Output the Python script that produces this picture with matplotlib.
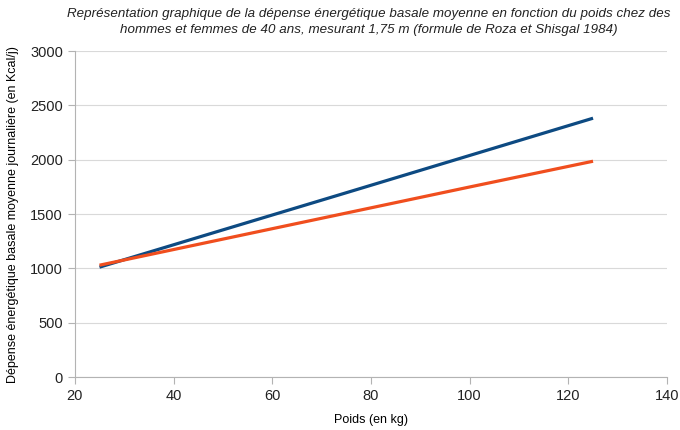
import matplotlib
matplotlib.use("Agg")
import matplotlib.pyplot as plt

plt.rcParams['font.family'] = ['Liberation Sans', 'DejaVu Sans']

# poids (kg) et dépense basale (Kcal/j)
poids = [25, 50, 75, 100, 125]
hommes = [1012, 1355, 1697, 2040, 2383]
femmes = [1030, 1270, 1510, 1750, 1987]

fig = plt.figure(figsize=(6.8, 4.3), dpi=100)
ax = fig.add_axes([0.110, 0.123, 0.871, 0.758])

ax.plot(poids, hommes, color='#0d4a82', lw=2.3, solid_capstyle='butt')
ax.plot(poids, femmes, color='#f04e1e', lw=2.3, solid_capstyle='butt')

ax.set_xlim(20, 140)
ax.set_ylim(0, 3000)
ax.set_xticks(range(20, 141, 20))
ax.set_yticks(range(0, 3001, 500))
ax.grid(axis='y', color='#d9d9d9', lw=0.8)
ax.set_axisbelow(True)

for s in ['top', 'right']:
    ax.spines[s].set_visible(False)
for s in ['left', 'bottom']:
    ax.spines[s].set_color('#b3b3b3')
    ax.spines[s].set_linewidth(0.8)
ax.tick_params(axis='x', colors='#b3b3b3', length=5, labelcolor='#222222', labelsize=10.5)
ax.tick_params(axis='y', colors='#b3b3b3', length=5, labelcolor='#222222', labelsize=10.5)

ax.set_xlabel('Poids (en kg)', fontsize=9, labelpad=8)
ax.set_ylabel('Dépense énergétique basale moyenne journalière (en Kcal/j)', fontsize=9, labelpad=8)
fig.text(0.543, 0.948, "Représentation graphique de la dépense énergétique basale moyenne en fonction du poids chez des\n"
         "hommes et femmes de 40 ans, mesurant 1,75 m (formule de Roza et Shisgal 1984)",
         ha='center', va='center', fontsize=9.6, style='italic', color='#222222', linespacing=1.45)

fig.savefig('out.png', dpi=100)
